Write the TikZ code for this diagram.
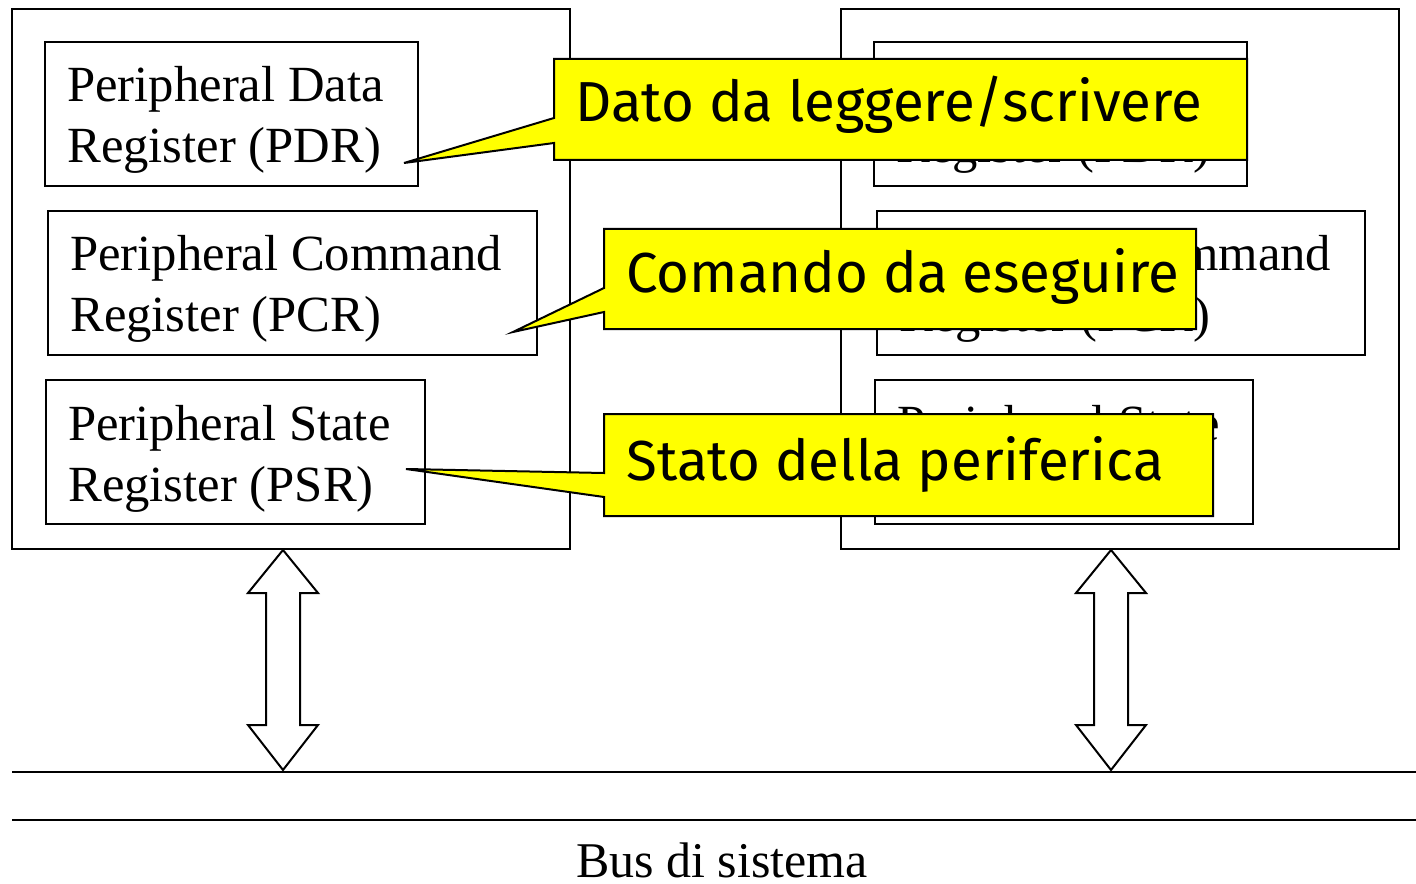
\documentclass[tikz,border=0pt]{standalone}
\usepackage{fontspec}
\setmainfont{Liberation Serif}
\newfontfamily\callfont{Fira Sans}
\usetikzlibrary{fit}
\definecolor{calloutyellow}{RGB}{255,255,0}
\newcommand{\twolines}[2]{\vtop{\hbox{#1}\hbox{#2}}}
\begin{document}
\begin{tikzpicture}[x=0.75pt,y=-0.75pt,
  outerbox/.style={draw, line width=1.5pt, inner sep=0pt},
  regbox/.style={draw, line width=1.5pt, inner sep=0pt},
  regtext/.style={anchor=base west, inner sep=0pt, font=\fontsize{38}{45.75}\selectfont},
  callshape/.style={draw, fill=calloutyellow, line width=1.5pt, line join=miter},
  calltext/.style={anchor=base west, inner sep=0pt, font=\callfont\fontsize{42.3}{48}\selectfont},
  dblarrow/.style={draw, fill=white, line width=1.5pt, line join=miter},
  busline/.style={draw, line width=2pt}]
\useasboundingbox (0,0) rectangle (1416,884);
% outer boxes
\node[outerbox, fit={(12,9)(570,549)}] (left) {};
\node[outerbox, fit={(841,9)(1399,549)}] (right) {};
% left registers
\node[regbox, fit={(45,42)(418,186)}] (lpdr) {};
\node[regbox, fit={(48,211)(537,355)}] (lpcr) {};
\node[regbox, fit={(46,380)(425,524)}] (lpsr) {};
\node[regtext] (lpdrt) at (67,102) {\twolines{Peripheral Data}{Register (PDR)}};
\node[regtext] (lpcrt) at (70,271) {\twolines{Peripheral Command}{Register (PCR)}};
\node[regtext] (lpsrt) at (68,440) {\twolines{Peripheral State}{Register (PSR)}};
% right registers
\node[regbox, fit={(874,42)(1247,186)}] (rpdr) {};
\node[regbox, fit={(877,211)(1365,355)}] (rpcr) {};
\node[regbox, fit={(875,380)(1253,524)}] (rpsr) {};
\node[regtext] (rpdrt) at (896,102) {\twolines{Peripheral Data}{Register (PDR)}};
\node[regtext] (rpcrt) at (899,271) {\twolines{Peripheral Command}{Register (PCR)}};
\node[regtext] (rpsrt) at (897,440) {\twolines{Peripheral State}{Register (PSR)}};
% bus lines
\coordinate (b1s) at (12,772); \coordinate (b1e) at (1416,772);
\coordinate (b2s) at (12,820); \coordinate (b2e) at (1416,820);
\draw[busline] (b1s) -- (b1e);
\draw[busline] (b2s) -- (b2e);
% double arrows
\draw[dblarrow] (283,550) -- (318,593) -- (300,593) -- (300,725) -- (318,725) -- (283,770)
  -- (248,725) -- (266,725) -- (266,593) -- (248,593) -- cycle;
\draw[dblarrow] (1111,550) -- (1146,593) -- (1128,593) -- (1128,725) -- (1146,725) -- (1111,770)
  -- (1076,725) -- (1094,725) -- (1094,593) -- (1076,593) -- cycle;
\node[anchor=base, inner sep=0pt, font=\fontsize{37.5}{45}\selectfont] (bus) at (722,877) {Bus di sistema};
% callouts
\coordinate (t1) at (404,163);
\coordinate (t2) at (513,332);
\coordinate (t3) at (406,469);
\draw[callshape] (554,59) -- (1247,59) -- (1247,160) -- (554,160) -- (554,143) -- (t1) -- (554,118) -- cycle;
\draw[callshape] (604,229) -- (1196,229) -- (1196,329) -- (604,329) -- (604,312) -- (t2) -- (604,288) -- cycle;
\draw[callshape] (604,414) -- (1213,414) -- (1213,516) -- (604,516) -- (604,497) -- (t3) -- (604,473) -- cycle;
\node[calltext] (c1) at (575,122) {Dato da leggere/scrivere};
\node[calltext] (c2) at (626,292) {Comando da eseguire};
\node[calltext] (c3) at (626,480) {Stato della periferica};
\end{tikzpicture}
\end{document}
